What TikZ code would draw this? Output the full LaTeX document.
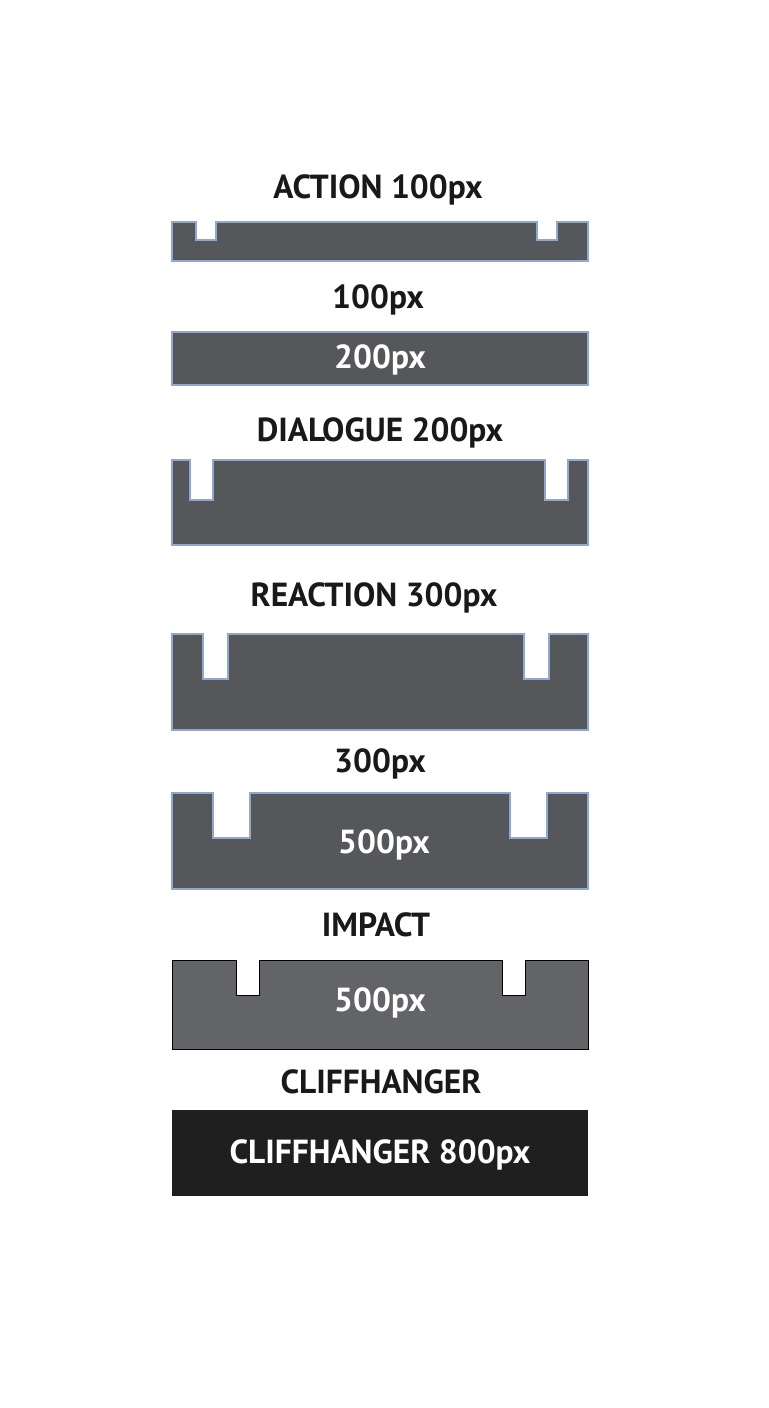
\documentclass[tikz,border=0pt]{standalone}
\usepackage{fontspec}
\setmainfont{PT Sans}
\usetikzlibrary{positioning}
\definecolor{bargray}{HTML}{55575A}
\definecolor{edgeblue}{HTML}{8FA8D0}
\tikzset{
  title/.style={font=\bfseries\fontsize{19}{21}\selectfont,text=black!90},
  inbar/.style={font=\bfseries\fontsize{19}{21}\selectfont,text=white},
  bar/.style={fill=bargray,draw=edgeblue,line width=1.2pt},
}
% notched bar: top, bottom, notch left x1-x2, right x3-x4, notch depth
\newcommand{\notchbar}[8][bar]{%
  \draw[#1] (172,#2) -- (#4,#2) -- (#4,#8) -- (#5,#8) -- (#5,#2) -- (#6,#2)
    -- (#6,#8) -- (#7,#8) -- (#7,#2) -- (588,#2) -- (588,#3) -- (172,#3) -- cycle;}
\begin{document}
\begin{tikzpicture}[x=0.02cm,y=-0.02cm]
  \useasboundingbox (0,0) rectangle (768,1408);
  % action
  \node[title] (action) at (378,190) {ACTION 100px};
  \notchbar{222}{261}{196}{216}{537}{557}{240}
  % 100 / 200
  \node[title] (hundred) at (378,300) {100px};
  \draw[bar] (172,332) rectangle (588,385);
  \node[inbar] (twohundred) at (380,360) {200px};
  % dialogue
  \node[title] (dialogue) at (380,433) {DIALOGUE 200px};
  \notchbar{460}{545}{190}{213}{545}{568}{500}
  % reaction
  \node[title] (reaction) at (374,598) {REACTION 300px};
  \notchbar{634}{730}{203}{228}{524}{549}{679}
  % 300 / 500
  \node[title] (threehundred) at (380,764) {300px};
  \notchbar{793}{889}{213}{250}{510}{547}{838}
  \node[inbar] (fivehundred) at (384,845) {500px};
  % impact
  \node[title] (impact) at (376,925) {IMPACT};
  \notchbar[fill=bargray!92]{960}{1049}{236}{259}{502}{525}{995}
  \node[inbar] (impactpx) at (380,1003) {500px};
  % cliffhanger
  \node[title] (cliff) at (381,1082) {CLIFFHANGER};
  \fill[black!88] (172,1110) rectangle (588,1196);
  \node[inbar] (cliffpx) at (380,1155) {CLIFFHANGER 800px};
\end{tikzpicture}
\end{document}
